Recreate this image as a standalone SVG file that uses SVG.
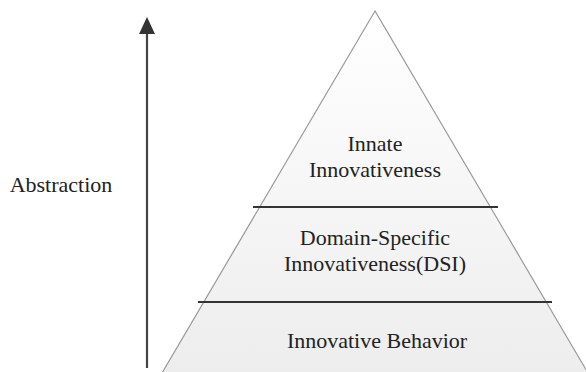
<svg xmlns="http://www.w3.org/2000/svg" width="586" height="372" viewBox="0 0 586 372">
  <style>
    .lbl { font-family: "Liberation Serif", "Times New Roman", serif; font-size: 22px; fill: #222; text-anchor: middle; }
    .sep { stroke: #333; stroke-width: 2; }
  </style>
  <defs>
    <linearGradient id="g" x1="0" y1="0" x2="0" y2="1">
      <stop offset="0" stop-color="#ffffff"/>
      <stop offset="1" stop-color="#ededed"/>
    </linearGradient>
    <marker id="ah" viewBox="0 0 10 10" refX="10" refY="5" markerWidth="8" markerHeight="8" markerUnits="userSpaceOnUse" orient="auto">
      <path d="M0,0 L10,5 L0,10 z" fill="#333"/>
    </marker>
  </defs>
  <rect width="586" height="372" fill="#ffffff"/>
  <g id="pyramid">
    <polygon points="375,11 162,373 588,373" fill="url(#g)" stroke="#999" stroke-width="1.2"/>
  </g>
  <g id="connectors">
    <line x1="147" y1="368" x2="147" y2="34" stroke="#444" stroke-width="2.2"/>
    <polygon points="147,17 139,34 155,34" fill="#333"/>
    <line class="sep" x1="253" y1="207" x2="498" y2="207"/>
    <line class="sep" x1="198" y1="302" x2="552" y2="302"/>
  </g>
  <g id="innate">
    <text class="lbl" x="375" y="151">Innate</text>
    <text class="lbl" x="375" y="177">Innovativeness</text>
  </g>
  <g id="dsi">
    <text class="lbl" x="375" y="245">Domain-Specific</text>
    <text class="lbl" x="375" y="271">Innovativeness(DSI)</text>
  </g>
  <g id="behavior">
    <text class="lbl" x="377" y="348">Innovative Behavior</text>
  </g>
  <g id="abstraction">
    <text class="lbl" x="61" y="192">Abstraction</text>
  </g>
</svg>
